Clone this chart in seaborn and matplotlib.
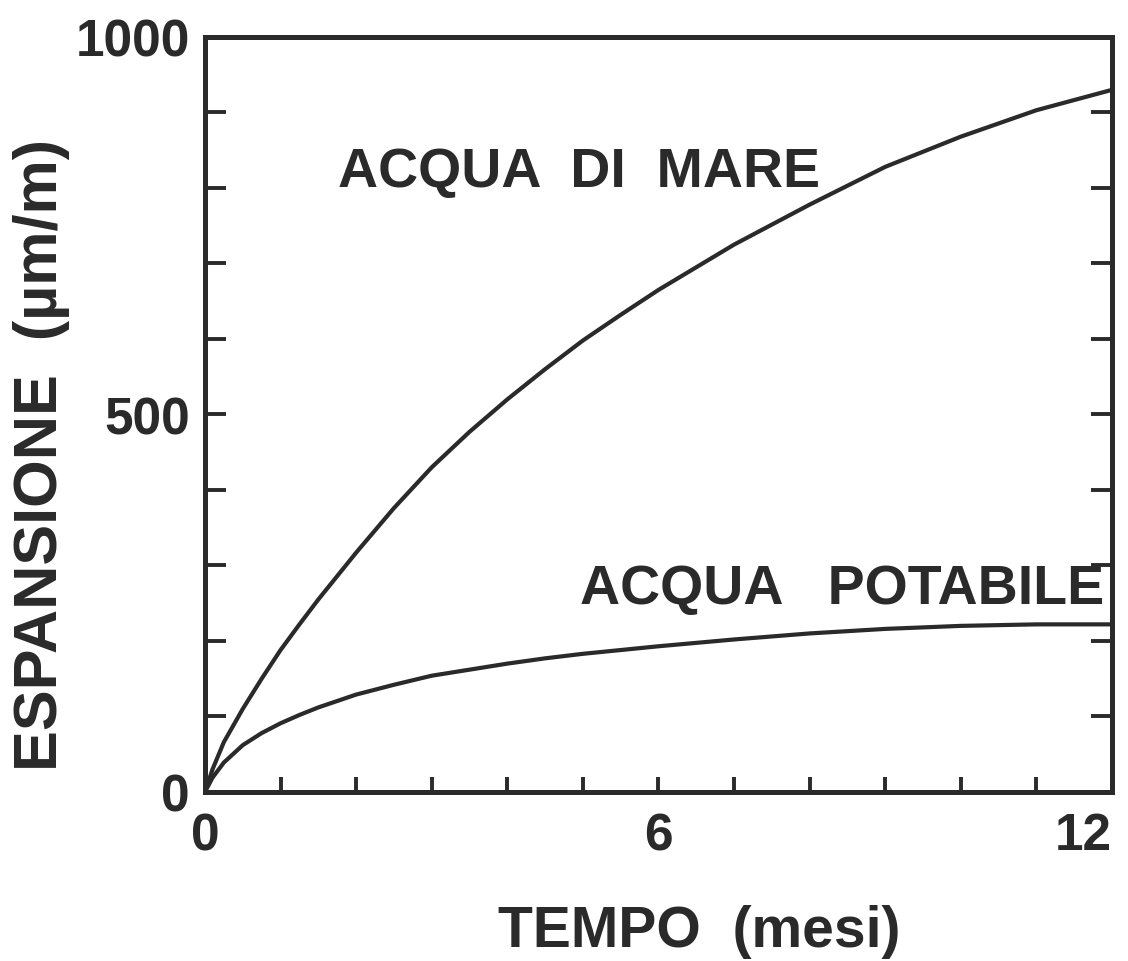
import matplotlib
matplotlib.use("Agg")
import matplotlib.pyplot as plt
from matplotlib.ticker import MultipleLocator, FixedLocator
import seaborn as sns
import pandas as pd

# Expansion (µm/m) versus time (months) for the two curing waters
months = [0, 0.1, 0.25, 0.5, 0.75, 1, 1.25, 1.5, 2, 2.5, 3, 3.5, 4, 4.5, 5, 5.5,
          6, 7, 8, 9, 10, 11, 12]
acqua_di_mare = [0, 30, 66, 110, 150, 188, 222, 255, 317, 376, 430, 477, 520, 560,
                 598, 632, 665, 725, 778, 828, 868, 903, 930]
acqua_potabile = [0, 19, 39, 62, 78, 91, 102, 112, 129, 142, 154, 162, 170, 177,
                  183, 188, 193, 202, 210, 216, 220, 222, 222]

series_names = ["ACQUA  DI  MARE", "ACQUA   POTABILE"]
x_ticks = [0, 6, 12]
y_ticks = [0, 500, 1000]

ink = "#2a2a2a"

sns.set_theme(style="white")
plt.rcParams["font.family"] = ["Liberation Sans", "DejaVu Sans"]
plt.rcParams["font.weight"] = "bold"

df = pd.DataFrame({
    "mesi": months * 2,
    "espansione": acqua_di_mare + acqua_potabile,
    "serie": [series_names[0]] * len(months) + [series_names[1]] * len(months),
})

fig = plt.figure(figsize=(11.28, 9.62), dpi=100)
ax = fig.add_axes([0.1817, 0.1757, 0.8041, 0.7848])

sns.lineplot(data=df, x="mesi", y="espansione", hue="serie",
             palette=[ink, ink], linewidth=3.0, legend=False, ax=ax)

ax.set_xlim(0, 12)
ax.set_ylim(0, 1000)

for side in ["left", "right", "top", "bottom"]:
    ax.spines[side].set_visible(True)
    ax.spines[side].set_color(ink)
    ax.spines[side].set_linewidth(3.6)

ax.xaxis.set_major_locator(FixedLocator(x_ticks))
ax.xaxis.set_minor_locator(MultipleLocator(1))
ax.yaxis.set_major_locator(FixedLocator(y_ticks))
ax.yaxis.set_minor_locator(MultipleLocator(100))
ax.set_xticklabels([str(v) for v in x_ticks])
ax.set_yticklabels([str(v) for v in y_ticks])

ax.tick_params(axis="both", which="both", direction="in", color=ink, width=2.8,
               labelcolor=ink)
ax.tick_params(axis="y", which="both", left=True, right=True, labelright=False,
               length=15, pad=11, labelsize=37)
ax.tick_params(axis="x", which="both", bottom=True, top=False,
               length=11, pad=14, labelsize=37)
for lab in ax.get_yticklabels():
    lab.set_fontweight("bold")
xlabels = ax.get_xticklabels()
for lab in xlabels:
    lab.set_fontweight("bold")
xlabels[-1].set_horizontalalignment("right")

ax.set_xlabel("TEMPO  (mesi)", fontsize=41, fontweight="bold", color=ink)
ax.xaxis.set_label_coords(0.545, -0.148)
ax.set_ylabel("ESPANSIONE  (µm/m)", fontsize=44, fontweight="bold", color=ink)
ax.yaxis.set_label_coords(-0.149, 0.448)

ax.text(1.76, 802, series_names[0], fontsize=40, fontweight="bold", color=ink,
        ha="left", va="baseline")
ax.text(4.96, 250, series_names[1], fontsize=40, fontweight="bold", color=ink,
        ha="left", va="baseline")

fig.savefig("out.png", dpi=100, facecolor="white")
